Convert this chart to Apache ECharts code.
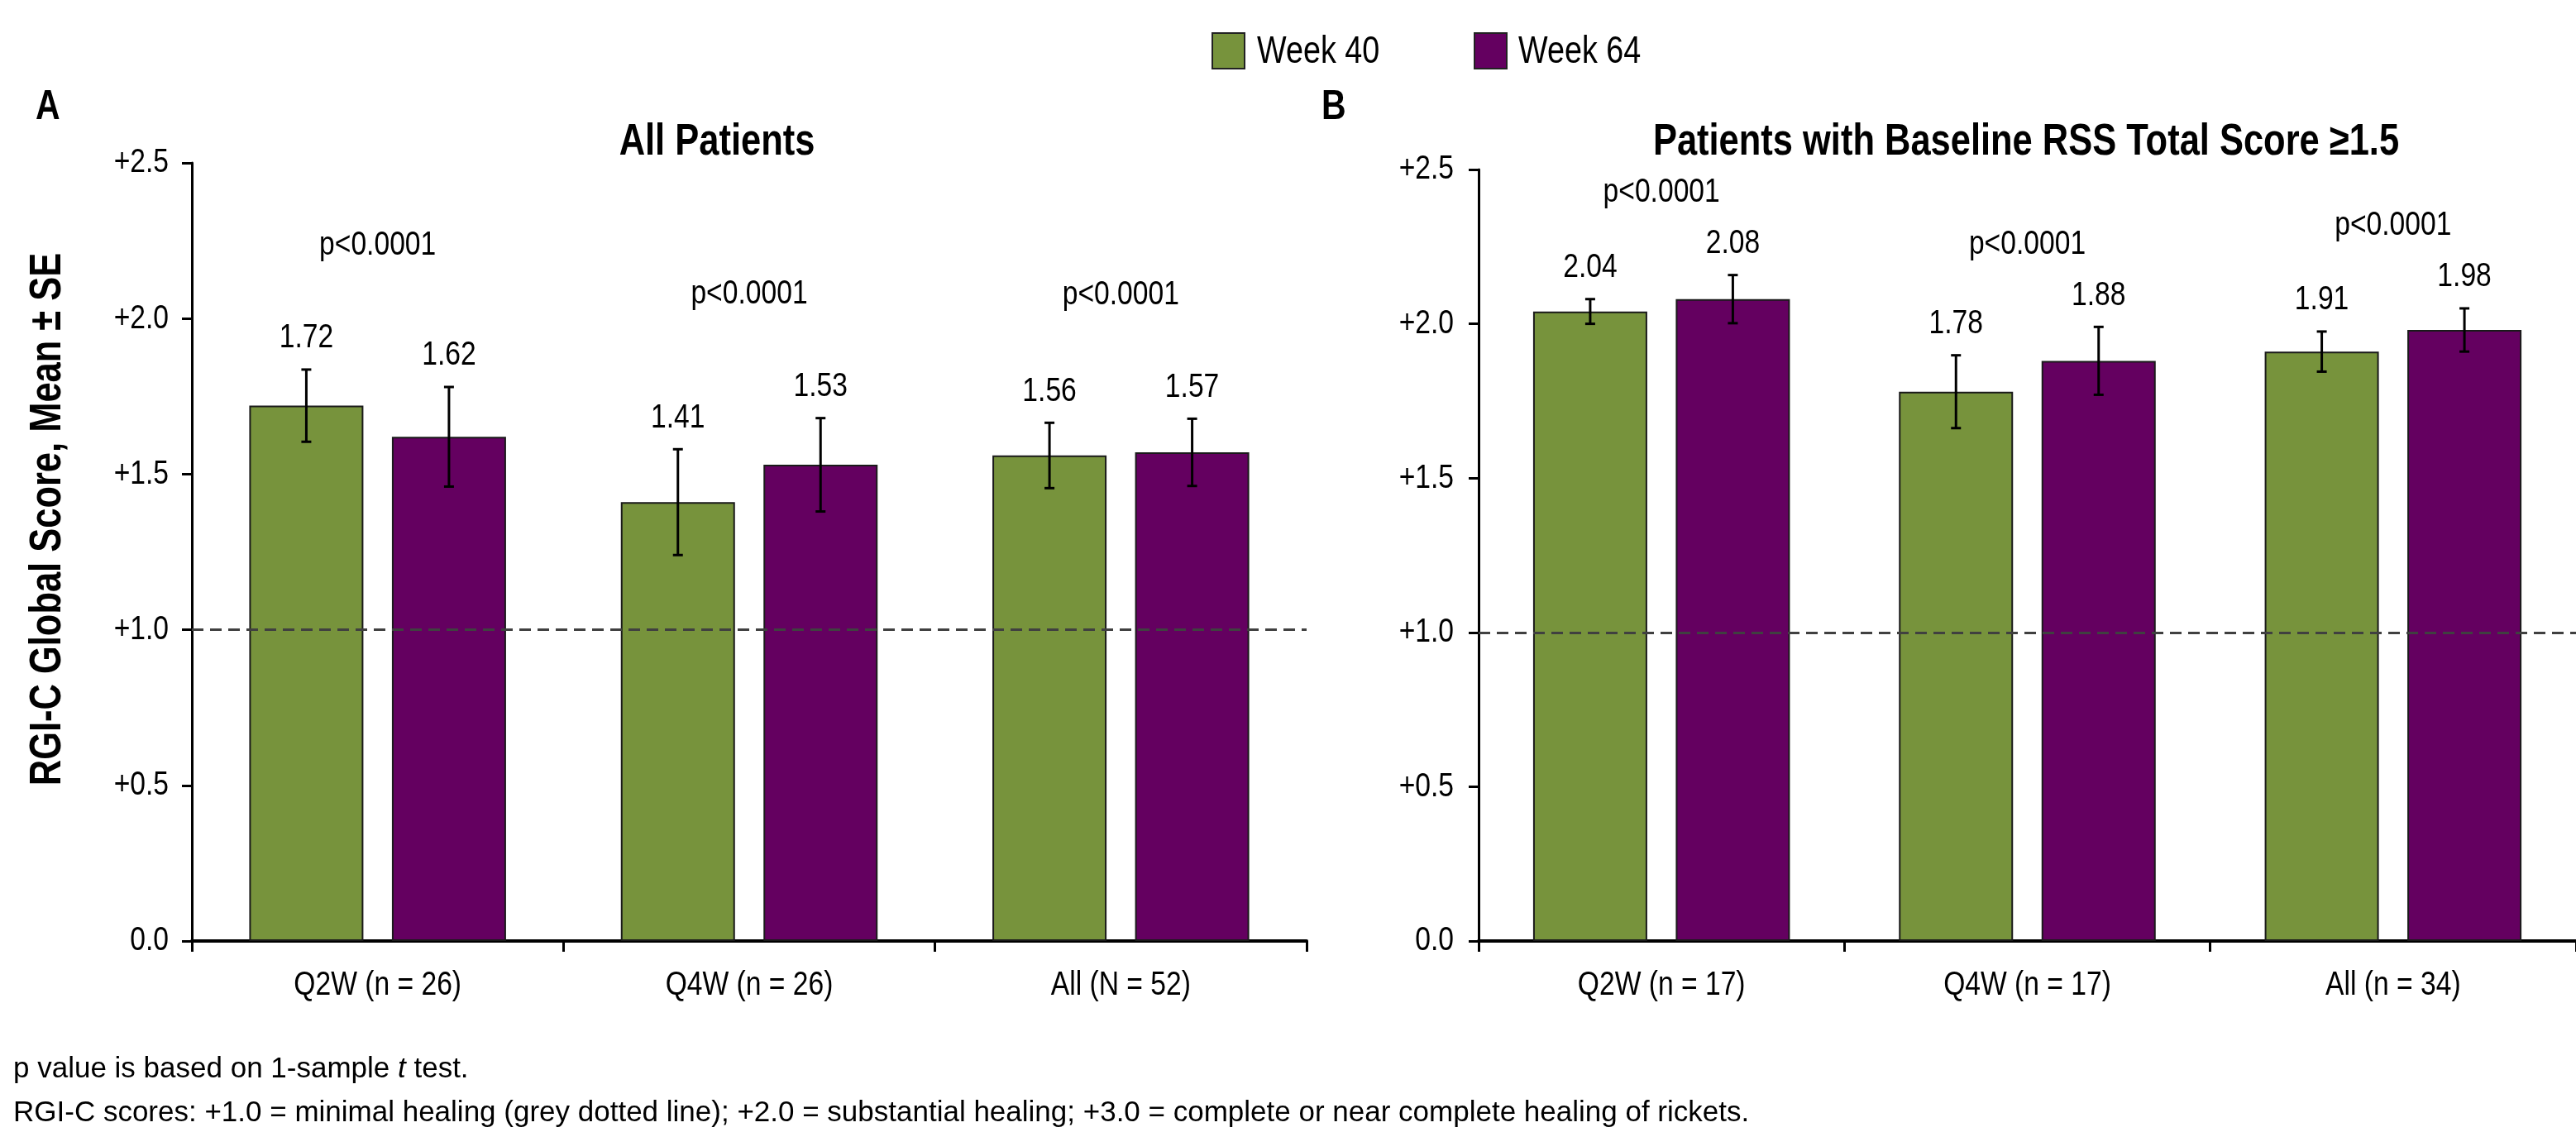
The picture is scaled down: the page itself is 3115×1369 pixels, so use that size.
<!DOCTYPE html>
<html>
<head>
<meta charset="utf-8">
<script src="https://cdn.jsdelivr.net/npm/echarts@6/dist/echarts.min.js"></script>
<style>
html,body{margin:0;padding:0;background:#fff;}
#chart{width:3115px;height:1369px;}
</style>
</head>
<body>
<div id="chart"></div>
<script>
// ---------- DATA ----------
const seriesNames = ['Week 40', 'Week 64'];
const categoriesA = ['Q2W (n = 26)', 'Q4W (n = 26)', 'All (N = 52)'];
const week40A = [1.72, 1.41, 1.56];
const week40A_se = [0.116, 0.17, 0.105];
const week64A = [1.62, 1.53, 1.57];
const week64A_se = [0.16, 0.15, 0.108];
const pValuesA = ['p<0.0001', 'p<0.0001', 'p<0.0001'];

const categoriesB = ['Q2W (n = 17)', 'Q4W (n = 17)', 'All (n = 34)'];
const week40B = [2.04, 1.78, 1.91];
const week40B_se = [0.04, 0.118, 0.065];
const week64B = [2.08, 1.88, 1.98];
const week64B_se = [0.078, 0.11, 0.07];
const pValuesB = ['p<0.0001', 'p<0.0001', 'p<0.0001'];

const yTickLabels = ['0.0', '+0.5', '+1.0', '+1.5', '+2.0', '+2.5'];
const yInterval = 0.5;
const referenceLine = 1.0;

// ---------- STYLE / LAYOUT ----------
const FONT = "'Liberation Sans', Arial, sans-serif";
const NARROW_X = 0.82;           // condensed (Arial Narrow–like) look
const GREEN = '#77933C';
const PURPLE = '#640060';
const BAR_W = 138;
const BAR_GAP = 0.25;
const OFFSET = (BAR_W + BAR_W * BAR_GAP) / 2;
const SMALL = 41;

function errorData(m40, s40, m64, s64) {
  const d = [];
  for (let i = 0; i < m40.length; i++) {
    d.push([i, m40[i], s40[i], -1]);
    d.push([i, m64[i], s64[i], 1]);
  }
  return d;
}
function pData(m40, s40, m64, s64) {
  return m40.map((v, i) => [i, Math.max(m40[i] + s40[i], m64[i] + s64[i])]);
}
function narrowText(x, y, text, size, align, extra) {
  return Object.assign({
    type: 'text', x, y, scaleX: NARROW_X,
    style: { text, fill: '#000', font: size + 'px ' + FONT, align: align || 'center', verticalAlign: 'middle' }
  }, extra || {});
}

function errorRender(params, api) {
  const cat = api.value(0), mean = api.value(1), se = api.value(2), side = api.value(3);
  const top = api.coord([cat, mean + se]);
  const bot = api.coord([cat, mean - se]);
  const x = top[0] + side * OFFSET;
  const cap = 6;
  const ls = { stroke: '#000', lineWidth: 3 };
  return {
    type: 'group',
    children: [
      { type: 'line', shape: { x1: x, y1: top[1], x2: x, y2: bot[1] }, style: ls },
      { type: 'line', shape: { x1: x - cap, y1: top[1], x2: x + cap, y2: top[1] }, style: ls },
      { type: 'line', shape: { x1: x - cap, y1: bot[1], x2: x + cap, y2: bot[1] }, style: ls },
      narrowText(x, top[1] - 38, mean.toFixed(2), SMALL)
    ]
  };
}
function pRender(labels, offset) {
  return function (params, api) {
    const c = api.coord([api.value(0), api.value(1)]);
    return narrowText(c[0], c[1] - offset, labels[params.dataIndex], SMALL);
  };
}
function xLabelRender(cats) {
  return function (params, api) {
    const c = api.coord([api.value(0), 0]);
    return narrowText(c[0], c[1] + 54, cats[params.dataIndex], SMALL);
  };
}
function yLabelRender(gap) {
  return function (params, api) {
    const c = api.coord([0, api.value(1)]);
    return narrowText(params.coordSys.x - gap, c[1], yTickLabels[params.dataIndex], SMALL, 'right');
  };
}

function xAxis(gridIndex, cats) {
  return {
    type: 'category', gridIndex, data: cats,
    axisLine: { lineStyle: { color: '#000', width: 4 } },
    axisTick: { show: true, length: 13, lineStyle: { color: '#000', width: 3 }, alignWithLabel: false },
    axisLabel: { show: false },
    splitLine: { show: false }
  };
}
function yAxis(gridIndex) {
  return {
    type: 'value', gridIndex, min: 0, max: 2.5, interval: yInterval,
    axisLine: { show: true, lineStyle: { color: '#000', width: 3 } },
    axisTick: { show: true, length: 12, lineStyle: { color: '#000', width: 3 } },
    axisLabel: { show: false },
    splitLine: { show: false }
  };
}
const dash = {
  silent: true, symbol: 'none', label: { show: false },
  lineStyle: { color: '#404040', type: [14, 8], width: 3 },
  data: [{ yAxis: referenceLine }]
};
function bar(name, idx, data, color, withLine) {
  const s = {
    name, type: 'bar', xAxisIndex: idx, yAxisIndex: idx, data,
    barWidth: BAR_W, barGap: (BAR_GAP * 100) + '%',
    itemStyle: { color, borderColor: '#1a1a1a', borderWidth: 2 },
    emphasis: { disabled: true }
  };
  if (withLine) s.markLine = dash;
  return s;
}
function custom(idx, render, data) {
  return { type: 'custom', xAxisIndex: idx, yAxisIndex: idx, clip: false, silent: true, z: 5,
    renderItem: render, data };
}
const yTickData = yTickLabels.map((t, i) => [0, i * yInterval]);

const chart = echarts.init(document.getElementById('chart'), null, { renderer: 'canvas' });
chart.setOption({
  animation: false,
  backgroundColor: '#fff',
  grid: [
    { left: 232, top: 197, width: 1348, height: 941 },
    { left: 1788, top: 205, width: 1338, height: 933 }
  ],
  xAxis: [xAxis(0, categoriesA), xAxis(1, categoriesB)],
  yAxis: [yAxis(0), yAxis(1)],
  series: [
    bar(seriesNames[0], 0, week40A, GREEN, true),
    bar(seriesNames[1], 0, week64A, PURPLE, false),
    bar(seriesNames[0], 1, week40B, GREEN, true),
    bar(seriesNames[1], 1, week64B, PURPLE, false),
    custom(0, errorRender, errorData(week40A, week40A_se, week64A, week64A_se)),
    custom(1, errorRender, errorData(week40B, week40B_se, week64B, week64B_se)),
    custom(0, pRender(pValuesA, 150), pData(week40A, week40A_se, week64A, week64A_se)),
    custom(1, pRender(pValuesB, 100), pData(week40B, week40B_se, week64B, week64B_se)),
    custom(0, xLabelRender(categoriesA), categoriesA.map((c, i) => [i, 0])),
    custom(1, xLabelRender(categoriesB), categoriesB.map((c, i) => [i, 0])),
    custom(0, yLabelRender(28), yTickData),
    custom(1, yLabelRender(30), yTickData)
  ],
  graphic: [
    // legend
    { type: 'rect', shape: { x: 1466, y: 40, width: 39, height: 43 }, style: { fill: GREEN, stroke: '#222', lineWidth: 2 } },
    narrowText(1520, 63, seriesNames[0], 46, 'left'),
    { type: 'rect', shape: { x: 1783, y: 40, width: 39, height: 43 }, style: { fill: PURPLE, stroke: '#222', lineWidth: 2 } },
    narrowText(1836, 63, seriesNames[1], 46, 'left'),
    // panel letters and titles
    narrowText(43, 130, 'A', 'bold 50', 'left'),
    narrowText(1598, 130, 'B', 'bold 50', 'left'),
    narrowText(867, 172, 'All Patients', 'bold 53'),
    narrowText(2450, 172, 'Patients with Baseline RSS Total Score \u22651.5', 'bold 53'),
    narrowText(58, 628, 'RGI-C Global Score, Mean \u00b1 SE', 'bold 53', 'center', { rotation: Math.PI / 2 }),
    // footnotes
    { type: 'text', x: 16, y: 1293,
      style: { text: 'p value is based on 1-sample {i|t} test.', fill: '#000', font: '35px ' + FONT, verticalAlign: 'middle',
        rich: { i: { fontStyle: 'italic', fontSize: 35, fontFamily: FONT } } } },
    { type: 'text', x: 16, y: 1346,
      style: { text: 'RGI-C scores: +1.0 = minimal healing (grey dotted line); +2.0 = substantial healing; +3.0 = complete or near complete healing of rickets.', fill: '#000', font: '35px ' + FONT, verticalAlign: 'middle' } }
  ]
});
</script>
</body>
</html>
